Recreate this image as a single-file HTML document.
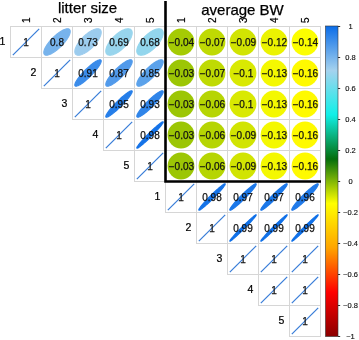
<!DOCTYPE html><html><head><meta charset="utf-8"><style>html,body{margin:0;padding:0;background:#fff;}svg{display:block;}text{font-family:"Liberation Sans",Arial,sans-serif;}</style></head><body>
<svg width="359" height="340" viewBox="0 0 359 340">
<rect width="359" height="340" fill="#fff"/>
<g fill="none" stroke="#D6D6D6" stroke-width="1"><rect x="10.5" y="26.5" width="31" height="31"/><rect x="41.5" y="26.5" width="31" height="31"/><rect x="72.5" y="26.5" width="31" height="31"/><rect x="103.5" y="26.5" width="31" height="31"/><rect x="134.5" y="26.5" width="31" height="31"/><rect x="165.5" y="26.5" width="31" height="31"/><rect x="196.5" y="26.5" width="31" height="31"/><rect x="227.5" y="26.5" width="31" height="31"/><rect x="258.5" y="26.5" width="31" height="31"/><rect x="289.5" y="26.5" width="31" height="31"/><rect x="41.5" y="57.5" width="31" height="31"/><rect x="72.5" y="57.5" width="31" height="31"/><rect x="103.5" y="57.5" width="31" height="31"/><rect x="134.5" y="57.5" width="31" height="31"/><rect x="165.5" y="57.5" width="31" height="31"/><rect x="196.5" y="57.5" width="31" height="31"/><rect x="227.5" y="57.5" width="31" height="31"/><rect x="258.5" y="57.5" width="31" height="31"/><rect x="289.5" y="57.5" width="31" height="31"/><rect x="72.5" y="88.5" width="31" height="31"/><rect x="103.5" y="88.5" width="31" height="31"/><rect x="134.5" y="88.5" width="31" height="31"/><rect x="165.5" y="88.5" width="31" height="31"/><rect x="196.5" y="88.5" width="31" height="31"/><rect x="227.5" y="88.5" width="31" height="31"/><rect x="258.5" y="88.5" width="31" height="31"/><rect x="289.5" y="88.5" width="31" height="31"/><rect x="103.5" y="119.5" width="31" height="31"/><rect x="134.5" y="119.5" width="31" height="31"/><rect x="165.5" y="119.5" width="31" height="31"/><rect x="196.5" y="119.5" width="31" height="31"/><rect x="227.5" y="119.5" width="31" height="31"/><rect x="258.5" y="119.5" width="31" height="31"/><rect x="289.5" y="119.5" width="31" height="31"/><rect x="134.5" y="150.5" width="31" height="31"/><rect x="165.5" y="150.5" width="31" height="31"/><rect x="196.5" y="150.5" width="31" height="31"/><rect x="227.5" y="150.5" width="31" height="31"/><rect x="258.5" y="150.5" width="31" height="31"/><rect x="289.5" y="150.5" width="31" height="31"/><rect x="165.5" y="181.5" width="31" height="31"/><rect x="196.5" y="181.5" width="31" height="31"/><rect x="227.5" y="181.5" width="31" height="31"/><rect x="258.5" y="181.5" width="31" height="31"/><rect x="289.5" y="181.5" width="31" height="31"/><rect x="196.5" y="212.5" width="31" height="31"/><rect x="227.5" y="212.5" width="31" height="31"/><rect x="258.5" y="212.5" width="31" height="31"/><rect x="289.5" y="212.5" width="31" height="31"/><rect x="227.5" y="243.5" width="31" height="31"/><rect x="258.5" y="243.5" width="31" height="31"/><rect x="289.5" y="243.5" width="31" height="31"/><rect x="258.5" y="274.5" width="31" height="31"/><rect x="289.5" y="274.5" width="31" height="31"/><rect x="289.5" y="305.5" width="31" height="31"/></g>
<line x1="12.83" y1="55.17" x2="39.17" y2="28.83" stroke="#3A7ED8" stroke-width="1.25"/><path d="M69.50,29.50 L69.21,29.26 L68.86,29.07 L68.47,28.94 L68.03,28.85 L67.55,28.83 L67.02,28.85 L66.45,28.93 L65.85,29.06 L65.20,29.25 L64.52,29.49 L63.82,29.78 L63.08,30.12 L62.32,30.51 L61.54,30.95 L60.73,31.43 L59.92,31.96 L59.09,32.52 L58.25,33.13 L57.41,33.77 L56.56,34.45 L55.72,35.16 L54.88,35.89 L54.05,36.65 L53.24,37.44 L52.44,38.24 L51.65,39.05 L50.89,39.88 L50.16,40.72 L49.45,41.56 L48.77,42.41 L48.13,43.25 L47.52,44.09 L46.96,44.92 L46.43,45.73 L45.95,46.54 L45.51,47.32 L45.12,48.08 L44.78,48.82 L44.49,49.52 L44.25,50.20 L44.06,50.85 L43.93,51.45 L43.85,52.02 L43.83,52.55 L43.85,53.03 L43.94,53.47 L44.07,53.86 L44.26,54.21 L44.50,54.50 L44.79,54.74 L45.14,54.93 L45.53,55.06 L45.97,55.15 L46.45,55.17 L46.98,55.15 L47.55,55.07 L48.15,54.94 L48.80,54.75 L49.48,54.51 L50.18,54.22 L50.92,53.88 L51.68,53.49 L52.46,53.05 L53.27,52.57 L54.08,52.04 L54.91,51.48 L55.75,50.87 L56.59,50.23 L57.44,49.55 L58.28,48.84 L59.12,48.11 L59.95,47.35 L60.76,46.56 L61.56,45.76 L62.35,44.95 L63.11,44.12 L63.84,43.28 L64.55,42.44 L65.23,41.59 L65.87,40.75 L66.48,39.91 L67.04,39.08 L67.57,38.27 L68.05,37.46 L68.49,36.68 L68.88,35.92 L69.22,35.18 L69.51,34.48 L69.75,33.80 L69.94,33.15 L70.07,32.55 L70.15,31.98 L70.17,31.45 L70.15,30.97 L70.06,30.53 L69.93,30.14 L69.74,29.79 L69.50,29.50Z" fill="#77B3EC" stroke="#77B3EC" stroke-width="1.2"/><path d="M100.25,29.75 L99.92,29.46 L99.53,29.23 L99.10,29.05 L98.62,28.92 L98.10,28.85 L97.54,28.83 L96.94,28.86 L96.30,28.95 L95.63,29.09 L94.92,29.28 L94.19,29.53 L93.43,29.83 L92.65,30.18 L91.86,30.58 L91.04,31.02 L90.21,31.51 L89.38,32.04 L88.53,32.61 L87.69,33.23 L86.85,33.87 L86.01,34.55 L85.18,35.27 L84.36,36.00 L83.55,36.77 L82.77,37.55 L82.00,38.36 L81.27,39.18 L80.55,40.01 L79.87,40.85 L79.23,41.69 L78.61,42.53 L78.04,43.38 L77.51,44.21 L77.02,45.04 L76.58,45.86 L76.18,46.65 L75.83,47.43 L75.53,48.19 L75.28,48.92 L75.09,49.63 L74.95,50.30 L74.86,50.94 L74.83,51.54 L74.85,52.10 L74.92,52.62 L75.05,53.10 L75.23,53.53 L75.46,53.92 L75.75,54.25 L76.08,54.54 L76.47,54.77 L76.90,54.95 L77.38,55.08 L77.90,55.15 L78.46,55.17 L79.06,55.14 L79.70,55.05 L80.37,54.91 L81.08,54.72 L81.81,54.47 L82.57,54.17 L83.35,53.82 L84.14,53.42 L84.96,52.98 L85.79,52.49 L86.62,51.96 L87.47,51.39 L88.31,50.77 L89.15,50.13 L89.99,49.45 L90.82,48.73 L91.64,48.00 L92.45,47.23 L93.23,46.45 L94.00,45.64 L94.73,44.82 L95.45,43.99 L96.13,43.15 L96.77,42.31 L97.39,41.47 L97.96,40.62 L98.49,39.79 L98.98,38.96 L99.42,38.14 L99.82,37.35 L100.17,36.57 L100.47,35.81 L100.72,35.08 L100.91,34.37 L101.05,33.70 L101.14,33.06 L101.17,32.46 L101.15,31.90 L101.08,31.38 L100.95,30.90 L100.77,30.47 L100.54,30.08 L100.25,29.75Z" fill="#9CCCEE" stroke="#9CCCEE" stroke-width="1.2"/><path d="M131.11,29.89 L130.75,29.58 L130.35,29.33 L129.90,29.12 L129.40,28.97 L128.86,28.87 L128.28,28.83 L127.66,28.84 L127.01,28.90 L126.32,29.02 L125.60,29.19 L124.86,29.42 L124.09,29.69 L123.30,30.02 L122.50,30.39 L121.67,30.82 L120.84,31.29 L120.00,31.80 L119.16,32.35 L118.31,32.95 L117.47,33.58 L116.64,34.25 L115.81,34.95 L115.00,35.67 L114.20,36.43 L113.43,37.20 L112.67,38.00 L111.95,38.81 L111.25,39.64 L110.58,40.47 L109.95,41.31 L109.35,42.16 L108.80,43.00 L108.29,43.84 L107.82,44.67 L107.39,45.50 L107.02,46.30 L106.69,47.09 L106.42,47.86 L106.19,48.60 L106.02,49.32 L105.90,50.01 L105.84,50.66 L105.83,51.28 L105.87,51.86 L105.97,52.40 L106.12,52.90 L106.33,53.35 L106.58,53.75 L106.89,54.11 L107.25,54.42 L107.65,54.67 L108.10,54.88 L108.60,55.03 L109.14,55.13 L109.72,55.17 L110.34,55.16 L110.99,55.10 L111.68,54.98 L112.40,54.81 L113.14,54.58 L113.91,54.31 L114.70,53.98 L115.50,53.61 L116.33,53.18 L117.16,52.71 L118.00,52.20 L118.84,51.65 L119.69,51.05 L120.53,50.42 L121.36,49.75 L122.19,49.05 L123.00,48.33 L123.80,47.57 L124.57,46.80 L125.33,46.00 L126.05,45.19 L126.75,44.36 L127.42,43.53 L128.05,42.69 L128.65,41.84 L129.20,41.00 L129.71,40.16 L130.18,39.33 L130.61,38.50 L130.98,37.70 L131.31,36.91 L131.58,36.14 L131.81,35.40 L131.98,34.68 L132.10,33.99 L132.16,33.34 L132.17,32.72 L132.13,32.14 L132.03,31.60 L131.88,31.10 L131.67,30.65 L131.42,30.25 L131.11,29.89Z" fill="#98D5ED" stroke="#98D5ED" stroke-width="1.2"/><path d="M162.08,29.92 L161.71,29.61 L161.30,29.35 L160.85,29.14 L160.34,28.98 L159.80,28.88 L159.21,28.83 L158.59,28.83 L157.94,28.89 L157.25,29.01 L156.53,29.17 L155.78,29.39 L155.01,29.66 L154.22,29.98 L153.41,30.35 L152.59,30.77 L151.75,31.23 L150.91,31.74 L150.07,32.29 L149.22,32.88 L148.38,33.51 L147.55,34.18 L146.72,34.87 L145.91,35.59 L145.12,36.35 L144.35,37.12 L143.59,37.91 L142.87,38.72 L142.18,39.55 L141.51,40.38 L140.88,41.22 L140.29,42.07 L139.74,42.91 L139.23,43.75 L138.77,44.59 L138.35,45.41 L137.98,46.22 L137.66,47.01 L137.39,47.78 L137.17,48.53 L137.01,49.25 L136.89,49.94 L136.83,50.59 L136.83,51.21 L136.88,51.80 L136.98,52.34 L137.14,52.85 L137.35,53.30 L137.61,53.71 L137.92,54.08 L138.29,54.39 L138.70,54.65 L139.15,54.86 L139.66,55.02 L140.20,55.12 L140.79,55.17 L141.41,55.17 L142.06,55.11 L142.75,54.99 L143.47,54.83 L144.22,54.61 L144.99,54.34 L145.78,54.02 L146.59,53.65 L147.41,53.23 L148.25,52.77 L149.09,52.26 L149.93,51.71 L150.78,51.12 L151.62,50.49 L152.45,49.82 L153.28,49.13 L154.09,48.41 L154.88,47.65 L155.65,46.88 L156.41,46.09 L157.13,45.28 L157.82,44.45 L158.49,43.62 L159.12,42.78 L159.71,41.93 L160.26,41.09 L160.77,40.25 L161.23,39.41 L161.65,38.59 L162.02,37.78 L162.34,36.99 L162.61,36.22 L162.83,35.47 L162.99,34.75 L163.11,34.06 L163.17,33.41 L163.17,32.79 L163.12,32.20 L163.02,31.66 L162.86,31.15 L162.65,30.70 L162.39,30.29 L162.08,29.92Z" fill="#93D6ED" stroke="#93D6ED" stroke-width="1.2"/><circle cx="181.0" cy="42.0" r="13.4" fill="#A5CB04"/><circle cx="212.0" cy="42.0" r="13.4" fill="#BFDA03"/><circle cx="243.0" cy="42.0" r="13.4" fill="#D1E402"/><circle cx="274.0" cy="42.0" r="13.4" fill="#EBF301"/><circle cx="305.0" cy="42.0" r="13.4" fill="#FCFE00"/><line x1="43.83" y1="86.17" x2="70.17" y2="59.83" stroke="#3A7ED8" stroke-width="1.25"/><path d="M100.88,60.12 L100.67,59.97 L100.41,59.87 L100.10,59.83 L99.75,59.84 L99.34,59.90 L98.89,60.02 L98.39,60.19 L97.85,60.41 L97.27,60.68 L96.65,61.01 L95.99,61.38 L95.30,61.81 L94.59,62.28 L93.84,62.79 L93.07,63.34 L92.28,63.94 L91.48,64.57 L90.66,65.23 L89.82,65.93 L88.98,66.66 L88.14,67.41 L87.30,68.19 L86.45,68.98 L85.62,69.79 L84.79,70.62 L83.98,71.45 L83.19,72.30 L82.41,73.14 L81.66,73.98 L80.93,74.82 L80.23,75.66 L79.57,76.48 L78.94,77.28 L78.34,78.07 L77.79,78.84 L77.28,79.59 L76.81,80.30 L76.38,80.99 L76.01,81.65 L75.68,82.27 L75.41,82.85 L75.19,83.39 L75.02,83.89 L74.90,84.34 L74.84,84.75 L74.83,85.10 L74.87,85.41 L74.97,85.67 L75.12,85.88 L75.33,86.03 L75.59,86.13 L75.90,86.17 L76.25,86.16 L76.66,86.10 L77.11,85.98 L77.61,85.81 L78.15,85.59 L78.73,85.32 L79.35,84.99 L80.01,84.62 L80.70,84.19 L81.41,83.72 L82.16,83.21 L82.93,82.66 L83.72,82.06 L84.52,81.43 L85.34,80.77 L86.18,80.07 L87.02,79.34 L87.86,78.59 L88.70,77.81 L89.55,77.02 L90.38,76.21 L91.21,75.38 L92.02,74.55 L92.81,73.70 L93.59,72.86 L94.34,72.02 L95.07,71.18 L95.77,70.34 L96.43,69.52 L97.06,68.72 L97.66,67.93 L98.21,67.16 L98.72,66.41 L99.19,65.70 L99.62,65.01 L99.99,64.35 L100.32,63.73 L100.59,63.15 L100.81,62.61 L100.98,62.11 L101.10,61.66 L101.16,61.25 L101.17,60.90 L101.13,60.59 L101.03,60.33 L100.88,60.12Z" fill="#3B8CEA" stroke="#3B8CEA" stroke-width="1.2"/><path d="M131.74,60.26 L131.50,60.07 L131.21,59.94 L130.86,59.85 L130.47,59.83 L130.03,59.85 L129.55,59.93 L129.02,60.06 L128.45,60.25 L127.84,60.49 L127.20,60.78 L126.52,61.12 L125.81,61.51 L125.08,61.95 L124.32,62.43 L123.53,62.96 L122.73,63.52 L121.91,64.13 L121.09,64.77 L120.25,65.45 L119.40,66.16 L118.56,66.89 L117.72,67.65 L116.88,68.43 L116.05,69.23 L115.23,70.05 L114.43,70.88 L113.65,71.72 L112.89,72.56 L112.16,73.40 L111.45,74.25 L110.77,75.09 L110.13,75.91 L109.52,76.73 L108.96,77.53 L108.43,78.32 L107.95,79.08 L107.51,79.81 L107.12,80.52 L106.78,81.20 L106.49,81.84 L106.25,82.45 L106.06,83.02 L105.93,83.55 L105.85,84.03 L105.83,84.47 L105.85,84.86 L105.94,85.21 L106.07,85.50 L106.26,85.74 L106.50,85.93 L106.79,86.06 L107.14,86.15 L107.53,86.17 L107.97,86.15 L108.45,86.07 L108.98,85.94 L109.55,85.75 L110.16,85.51 L110.80,85.22 L111.48,84.88 L112.19,84.49 L112.92,84.05 L113.68,83.57 L114.47,83.04 L115.27,82.48 L116.09,81.87 L116.91,81.23 L117.75,80.55 L118.60,79.84 L119.44,79.11 L120.28,78.35 L121.12,77.57 L121.95,76.77 L122.77,75.95 L123.57,75.12 L124.35,74.28 L125.11,73.44 L125.84,72.60 L126.55,71.75 L127.23,70.91 L127.87,70.09 L128.48,69.27 L129.04,68.47 L129.57,67.68 L130.05,66.92 L130.49,66.19 L130.88,65.48 L131.22,64.80 L131.51,64.16 L131.75,63.55 L131.94,62.98 L132.07,62.45 L132.15,61.97 L132.17,61.53 L132.15,61.14 L132.06,60.79 L131.93,60.50 L131.74,60.26Z" fill="#519AEB" stroke="#519AEB" stroke-width="1.2"/><path d="M162.67,60.33 L162.41,60.12 L162.11,59.97 L161.75,59.87 L161.34,59.83 L160.89,59.84 L160.39,59.90 L159.85,60.02 L159.27,60.19 L158.65,60.41 L158.00,60.69 L157.31,61.01 L156.59,61.39 L155.85,61.81 L155.08,62.28 L154.29,62.79 L153.48,63.35 L152.66,63.94 L151.83,64.57 L150.99,65.24 L150.15,65.94 L149.30,66.66 L148.46,67.42 L147.63,68.19 L146.80,68.99 L145.99,69.80 L145.19,70.63 L144.42,71.46 L143.66,72.30 L142.94,73.15 L142.24,73.99 L141.57,74.83 L140.94,75.66 L140.35,76.48 L139.79,77.29 L139.28,78.08 L138.81,78.85 L138.39,79.59 L138.01,80.31 L137.69,81.00 L137.41,81.65 L137.19,82.27 L137.02,82.85 L136.90,83.39 L136.84,83.89 L136.83,84.34 L136.87,84.75 L136.97,85.11 L137.12,85.41 L137.33,85.67 L137.59,85.88 L137.89,86.03 L138.25,86.13 L138.66,86.17 L139.11,86.16 L139.61,86.10 L140.15,85.98 L140.73,85.81 L141.35,85.59 L142.00,85.31 L142.69,84.99 L143.41,84.61 L144.15,84.19 L144.92,83.72 L145.71,83.21 L146.52,82.65 L147.34,82.06 L148.17,81.43 L149.01,80.76 L149.85,80.06 L150.70,79.34 L151.54,78.58 L152.37,77.81 L153.20,77.01 L154.01,76.20 L154.81,75.37 L155.58,74.54 L156.34,73.70 L157.06,72.85 L157.76,72.01 L158.43,71.17 L159.06,70.34 L159.65,69.52 L160.21,68.71 L160.72,67.92 L161.19,67.15 L161.61,66.41 L161.99,65.69 L162.31,65.00 L162.59,64.35 L162.81,63.73 L162.98,63.15 L163.10,62.61 L163.16,62.11 L163.17,61.66 L163.13,61.25 L163.03,60.89 L162.88,60.59 L162.67,60.33Z" fill="#5BA2EB" stroke="#5BA2EB" stroke-width="1.2"/><circle cx="181.0" cy="73.0" r="13.4" fill="#9CC605"/><circle cx="212.0" cy="73.0" r="13.4" fill="#BFDA03"/><circle cx="243.0" cy="73.0" r="13.4" fill="#D9E902"/><circle cx="274.0" cy="73.0" r="13.4" fill="#F4F801"/><circle cx="305.0" cy="73.0" r="13.4" fill="#FFFA00"/><line x1="74.83" y1="117.17" x2="101.17" y2="90.83" stroke="#3A7ED8" stroke-width="1.25"/><path d="M132.01,90.99 L131.85,90.88 L131.64,90.83 L131.37,90.83 L131.06,90.89 L130.69,91.00 L130.28,91.16 L129.82,91.38 L129.31,91.64 L128.77,91.96 L128.18,92.33 L127.56,92.74 L126.90,93.21 L126.20,93.71 L125.48,94.26 L124.73,94.85 L123.96,95.47 L123.17,96.14 L122.36,96.83 L121.54,97.55 L120.70,98.30 L119.86,99.07 L119.02,99.87 L118.18,100.68 L117.33,101.50 L116.50,102.33 L115.68,103.18 L114.87,104.02 L114.07,104.86 L113.30,105.70 L112.55,106.54 L111.83,107.36 L111.14,108.17 L110.47,108.96 L109.85,109.73 L109.26,110.48 L108.71,111.20 L108.21,111.90 L107.74,112.56 L107.33,113.18 L106.96,113.77 L106.64,114.31 L106.38,114.82 L106.16,115.28 L106.00,115.69 L105.89,116.06 L105.83,116.37 L105.83,116.64 L105.88,116.85 L105.99,117.01 L106.15,117.12 L106.36,117.17 L106.63,117.17 L106.94,117.11 L107.31,117.00 L107.72,116.84 L108.18,116.62 L108.69,116.36 L109.23,116.04 L109.82,115.67 L110.44,115.26 L111.10,114.79 L111.80,114.29 L112.52,113.74 L113.27,113.15 L114.04,112.53 L114.83,111.86 L115.64,111.17 L116.46,110.45 L117.30,109.70 L118.14,108.93 L118.98,108.13 L119.82,107.32 L120.67,106.50 L121.50,105.67 L122.32,104.82 L123.13,103.98 L123.93,103.14 L124.70,102.30 L125.45,101.46 L126.17,100.64 L126.86,99.83 L127.53,99.04 L128.15,98.27 L128.74,97.52 L129.29,96.80 L129.79,96.10 L130.26,95.44 L130.67,94.82 L131.04,94.23 L131.36,93.69 L131.62,93.18 L131.84,92.72 L132.00,92.31 L132.11,91.94 L132.17,91.63 L132.17,91.36 L132.12,91.15 L132.01,90.99Z" fill="#257EE9" stroke="#257EE9" stroke-width="1.2"/><path d="M162.94,91.06 L162.76,90.93 L162.52,90.85 L162.23,90.83 L161.89,90.86 L161.51,90.94 L161.07,91.08 L160.59,91.27 L160.07,91.51 L159.50,91.81 L158.90,92.15 L158.26,92.55 L157.58,92.99 L156.88,93.47 L156.14,94.00 L155.38,94.57 L154.60,95.18 L153.80,95.83 L152.99,96.51 L152.16,97.22 L151.32,97.95 L150.48,98.72 L149.63,99.50 L148.79,100.30 L147.95,101.12 L147.12,101.95 L146.30,102.79 L145.50,103.63 L144.72,104.48 L143.95,105.32 L143.22,106.16 L142.51,106.99 L141.83,107.80 L141.18,108.60 L140.57,109.38 L140.00,110.14 L139.47,110.88 L138.99,111.58 L138.55,112.26 L138.15,112.90 L137.81,113.50 L137.51,114.07 L137.27,114.59 L137.08,115.07 L136.94,115.51 L136.86,115.89 L136.83,116.23 L136.85,116.52 L136.93,116.76 L137.06,116.94 L137.24,117.07 L137.48,117.15 L137.77,117.17 L138.11,117.14 L138.49,117.06 L138.93,116.92 L139.41,116.73 L139.93,116.49 L140.50,116.19 L141.10,115.85 L141.74,115.45 L142.42,115.01 L143.12,114.53 L143.86,114.00 L144.62,113.43 L145.40,112.82 L146.20,112.17 L147.01,111.49 L147.84,110.78 L148.68,110.05 L149.52,109.28 L150.37,108.50 L151.21,107.70 L152.05,106.88 L152.88,106.05 L153.70,105.21 L154.50,104.37 L155.28,103.52 L156.05,102.68 L156.78,101.84 L157.49,101.01 L158.17,100.20 L158.82,99.40 L159.43,98.62 L160.00,97.86 L160.53,97.12 L161.01,96.42 L161.45,95.74 L161.85,95.10 L162.19,94.50 L162.49,93.93 L162.73,93.41 L162.92,92.93 L163.06,92.49 L163.14,92.11 L163.17,91.77 L163.15,91.48 L163.07,91.24 L162.94,91.06Z" fill="#3085E9" stroke="#3085E9" stroke-width="1.2"/><circle cx="181.0" cy="104.0" r="13.4" fill="#9CC605"/><circle cx="212.0" cy="104.0" r="13.4" fill="#B6D503"/><circle cx="243.0" cy="104.0" r="13.4" fill="#D9E902"/><circle cx="274.0" cy="104.0" r="13.4" fill="#F4F801"/><circle cx="305.0" cy="104.0" r="13.4" fill="#FFFA00"/><line x1="105.83" y1="148.18" x2="132.18" y2="121.83" stroke="#3A7ED8" stroke-width="1.25"/><path d="M163.11,121.89 L163.00,121.83 L162.83,121.83 L162.62,121.88 L162.35,121.99 L162.03,122.14 L161.66,122.35 L161.24,122.62 L160.78,122.93 L160.27,123.29 L159.72,123.71 L159.13,124.16 L158.50,124.67 L157.84,125.21 L157.14,125.80 L156.42,126.42 L155.67,127.08 L154.90,127.77 L154.10,128.49 L153.29,129.24 L152.47,130.01 L151.63,130.80 L150.79,131.61 L149.95,132.43 L149.10,133.26 L148.26,134.10 L147.43,134.95 L146.61,135.79 L145.80,136.63 L145.01,137.47 L144.24,138.29 L143.49,139.10 L142.77,139.90 L142.08,140.67 L141.42,141.42 L140.80,142.14 L140.21,142.84 L139.67,143.50 L139.16,144.13 L138.71,144.72 L138.29,145.27 L137.93,145.78 L137.62,146.24 L137.35,146.66 L137.14,147.03 L136.99,147.35 L136.88,147.62 L136.83,147.83 L136.83,148.00 L136.89,148.11 L137.00,148.17 L137.17,148.17 L137.38,148.12 L137.65,148.01 L137.97,147.86 L138.34,147.65 L138.76,147.38 L139.22,147.07 L139.73,146.71 L140.28,146.29 L140.87,145.84 L141.50,145.33 L142.16,144.79 L142.86,144.20 L143.58,143.58 L144.33,142.92 L145.10,142.23 L145.90,141.51 L146.71,140.76 L147.53,139.99 L148.37,139.20 L149.21,138.39 L150.05,137.57 L150.90,136.74 L151.74,135.90 L152.57,135.05 L153.39,134.21 L154.20,133.37 L154.99,132.53 L155.76,131.71 L156.51,130.90 L157.23,130.10 L157.92,129.33 L158.58,128.58 L159.20,127.86 L159.79,127.16 L160.33,126.50 L160.84,125.87 L161.29,125.28 L161.71,124.73 L162.07,124.22 L162.38,123.76 L162.65,123.34 L162.86,122.97 L163.01,122.65 L163.12,122.38 L163.17,122.17 L163.17,122.00 L163.11,121.89Z" fill="#1573E8" stroke="#1573E8" stroke-width="1.2"/><circle cx="181.0" cy="135.0" r="13.4" fill="#9CC605"/><circle cx="212.0" cy="135.0" r="13.4" fill="#B6D503"/><circle cx="243.0" cy="135.0" r="13.4" fill="#D1E402"/><circle cx="274.0" cy="135.0" r="13.4" fill="#F4F801"/><circle cx="305.0" cy="135.0" r="13.4" fill="#FFFA00"/><line x1="136.82" y1="179.18" x2="163.18" y2="152.82" stroke="#3A7ED8" stroke-width="1.25"/><circle cx="181.0" cy="166.0" r="13.4" fill="#9CC605"/><circle cx="212.0" cy="166.0" r="13.4" fill="#B6D503"/><circle cx="243.0" cy="166.0" r="13.4" fill="#D1E402"/><circle cx="274.0" cy="166.0" r="13.4" fill="#F4F801"/><circle cx="305.0" cy="166.0" r="13.4" fill="#FFFA00"/><line x1="167.82" y1="210.18" x2="194.18" y2="183.82" stroke="#3A7ED8" stroke-width="1.25"/><path d="M225.11,183.89 L225.00,183.83 L224.83,183.83 L224.62,183.88 L224.35,183.99 L224.03,184.14 L223.66,184.35 L223.24,184.62 L222.78,184.93 L222.27,185.29 L221.72,185.71 L221.13,186.16 L220.50,186.67 L219.84,187.21 L219.14,187.80 L218.42,188.42 L217.67,189.08 L216.90,189.77 L216.10,190.49 L215.29,191.24 L214.47,192.01 L213.63,192.80 L212.79,193.61 L211.95,194.43 L211.10,195.26 L210.26,196.10 L209.43,196.95 L208.61,197.79 L207.80,198.63 L207.01,199.47 L206.24,200.29 L205.49,201.10 L204.77,201.90 L204.08,202.67 L203.42,203.42 L202.80,204.14 L202.21,204.84 L201.67,205.50 L201.16,206.13 L200.71,206.72 L200.29,207.27 L199.93,207.78 L199.62,208.24 L199.35,208.66 L199.14,209.03 L198.99,209.35 L198.88,209.62 L198.83,209.83 L198.83,210.00 L198.89,210.11 L199.00,210.17 L199.17,210.17 L199.38,210.12 L199.65,210.01 L199.97,209.86 L200.34,209.65 L200.76,209.38 L201.22,209.07 L201.73,208.71 L202.28,208.29 L202.87,207.84 L203.50,207.33 L204.16,206.79 L204.86,206.20 L205.58,205.58 L206.33,204.92 L207.10,204.23 L207.90,203.51 L208.71,202.76 L209.53,201.99 L210.37,201.20 L211.21,200.39 L212.05,199.57 L212.90,198.74 L213.74,197.90 L214.57,197.05 L215.39,196.21 L216.20,195.37 L216.99,194.53 L217.76,193.71 L218.51,192.90 L219.23,192.10 L219.92,191.33 L220.58,190.58 L221.20,189.86 L221.79,189.16 L222.33,188.50 L222.84,187.87 L223.29,187.28 L223.71,186.73 L224.07,186.22 L224.38,185.76 L224.65,185.34 L224.86,184.97 L225.01,184.65 L225.12,184.38 L225.17,184.17 L225.17,184.00 L225.11,183.89Z" fill="#1573E8" stroke="#1573E8" stroke-width="1.2"/><path d="M256.08,183.92 L255.95,183.85 L255.76,183.83 L255.53,183.86 L255.24,183.94 L254.90,184.08 L254.51,184.27 L254.08,184.52 L253.60,184.81 L253.08,185.16 L252.51,185.56 L251.91,186.00 L251.27,186.48 L250.60,187.01 L249.89,187.59 L249.16,188.20 L248.40,188.84 L247.62,189.52 L246.82,190.23 L246.00,190.97 L245.17,191.73 L244.34,192.52 L243.49,193.32 L242.65,194.14 L241.81,194.97 L240.97,195.81 L240.14,196.65 L239.32,197.49 L238.52,198.34 L237.73,199.17 L236.97,200.00 L236.23,200.82 L235.52,201.62 L234.84,202.40 L234.20,203.16 L233.59,203.89 L233.01,204.60 L232.48,205.27 L232.00,205.91 L231.56,206.51 L231.16,207.08 L230.81,207.60 L230.52,208.08 L230.27,208.51 L230.08,208.90 L229.94,209.24 L229.86,209.53 L229.83,209.76 L229.85,209.95 L229.92,210.08 L230.05,210.15 L230.24,210.17 L230.47,210.14 L230.76,210.06 L231.10,209.92 L231.49,209.73 L231.92,209.48 L232.40,209.19 L232.92,208.84 L233.49,208.44 L234.09,208.00 L234.73,207.52 L235.40,206.99 L236.11,206.41 L236.84,205.80 L237.60,205.16 L238.38,204.48 L239.18,203.77 L240.00,203.03 L240.83,202.27 L241.66,201.48 L242.51,200.68 L243.35,199.86 L244.19,199.03 L245.03,198.19 L245.86,197.35 L246.68,196.51 L247.48,195.66 L248.27,194.83 L249.03,194.00 L249.77,193.18 L250.48,192.38 L251.16,191.60 L251.80,190.84 L252.41,190.11 L252.99,189.40 L253.52,188.73 L254.00,188.09 L254.44,187.49 L254.84,186.92 L255.19,186.40 L255.48,185.92 L255.73,185.49 L255.92,185.10 L256.06,184.76 L256.14,184.47 L256.17,184.24 L256.15,184.05 L256.08,183.92Z" fill="#1A77E9" stroke="#1A77E9" stroke-width="1.2"/><path d="M287.08,183.92 L286.95,183.85 L286.76,183.83 L286.53,183.86 L286.24,183.94 L285.90,184.08 L285.51,184.27 L285.08,184.52 L284.60,184.81 L284.08,185.16 L283.51,185.56 L282.91,186.00 L282.27,186.48 L281.60,187.01 L280.89,187.59 L280.16,188.20 L279.40,188.84 L278.62,189.52 L277.82,190.23 L277.00,190.97 L276.17,191.73 L275.34,192.52 L274.49,193.32 L273.65,194.14 L272.81,194.97 L271.97,195.81 L271.14,196.65 L270.32,197.49 L269.52,198.34 L268.73,199.17 L267.97,200.00 L267.23,200.82 L266.52,201.62 L265.84,202.40 L265.20,203.16 L264.59,203.89 L264.01,204.60 L263.48,205.27 L263.00,205.91 L262.56,206.51 L262.16,207.08 L261.81,207.60 L261.52,208.08 L261.27,208.51 L261.08,208.90 L260.94,209.24 L260.86,209.53 L260.83,209.76 L260.85,209.95 L260.92,210.08 L261.05,210.15 L261.24,210.17 L261.47,210.14 L261.76,210.06 L262.10,209.92 L262.49,209.73 L262.92,209.48 L263.40,209.19 L263.92,208.84 L264.49,208.44 L265.09,208.00 L265.73,207.52 L266.40,206.99 L267.11,206.41 L267.84,205.80 L268.60,205.16 L269.38,204.48 L270.18,203.77 L271.00,203.03 L271.83,202.27 L272.66,201.48 L273.51,200.68 L274.35,199.86 L275.19,199.03 L276.03,198.19 L276.86,197.35 L277.68,196.51 L278.48,195.66 L279.27,194.83 L280.03,194.00 L280.77,193.18 L281.48,192.38 L282.16,191.60 L282.80,190.84 L283.41,190.11 L283.99,189.40 L284.52,188.73 L285.00,188.09 L285.44,187.49 L285.84,186.92 L286.19,186.40 L286.48,185.92 L286.73,185.49 L286.92,185.10 L287.06,184.76 L287.14,184.47 L287.17,184.24 L287.15,184.05 L287.08,183.92Z" fill="#1A77E9" stroke="#1A77E9" stroke-width="1.2"/><path d="M318.04,183.96 L317.90,183.86 L317.70,183.83 L317.45,183.84 L317.14,183.91 L316.79,184.03 L316.39,184.21 L315.94,184.44 L315.45,184.72 L314.91,185.05 L314.34,185.43 L313.72,185.86 L313.07,186.33 L312.39,186.85 L311.68,187.41 L310.93,188.01 L310.17,188.65 L309.38,189.32 L308.58,190.02 L307.76,190.75 L306.92,191.50 L306.09,192.28 L305.24,193.08 L304.40,193.89 L303.56,194.72 L302.72,195.56 L301.89,196.40 L301.08,197.24 L300.28,198.09 L299.50,198.92 L298.75,199.76 L298.02,200.58 L297.32,201.38 L296.65,202.17 L296.01,202.93 L295.41,203.68 L294.85,204.39 L294.33,205.07 L293.86,205.72 L293.43,206.34 L293.05,206.91 L292.72,207.45 L292.44,207.94 L292.21,208.39 L292.03,208.79 L291.91,209.14 L291.84,209.45 L291.83,209.70 L291.86,209.90 L291.96,210.04 L292.10,210.14 L292.30,210.17 L292.55,210.16 L292.86,210.09 L293.21,209.97 L293.61,209.79 L294.06,209.56 L294.55,209.28 L295.09,208.95 L295.66,208.57 L296.28,208.14 L296.93,207.67 L297.61,207.15 L298.32,206.59 L299.07,205.99 L299.83,205.35 L300.62,204.68 L301.42,203.98 L302.24,203.25 L303.08,202.50 L303.91,201.72 L304.76,200.92 L305.60,200.11 L306.44,199.28 L307.28,198.44 L308.11,197.60 L308.92,196.76 L309.72,195.91 L310.50,195.08 L311.25,194.24 L311.98,193.42 L312.68,192.62 L313.35,191.83 L313.99,191.07 L314.59,190.32 L315.15,189.61 L315.67,188.93 L316.14,188.28 L316.57,187.66 L316.95,187.09 L317.28,186.55 L317.56,186.06 L317.79,185.61 L317.97,185.21 L318.09,184.86 L318.16,184.55 L318.17,184.30 L318.14,184.10 L318.04,183.96Z" fill="#207AE9" stroke="#207AE9" stroke-width="1.2"/><line x1="198.82" y1="241.18" x2="225.18" y2="214.82" stroke="#3A7ED8" stroke-width="1.25"/><path d="M256.14,214.86 L256.06,214.83 L255.91,214.85 L255.72,214.92 L255.48,215.05 L255.18,215.23 L254.83,215.47 L254.44,215.76 L253.99,216.09 L253.51,216.48 L252.97,216.91 L252.40,217.39 L251.79,217.91 L251.15,218.47 L250.47,219.08 L249.75,219.72 L249.02,220.39 L248.25,221.10 L247.47,221.83 L246.66,222.59 L245.85,223.37 L245.02,224.17 L244.18,224.98 L243.33,225.81 L242.49,226.65 L241.65,227.49 L240.81,228.33 L239.98,229.18 L239.17,230.02 L238.37,230.85 L237.59,231.66 L236.83,232.47 L236.10,233.25 L235.39,234.02 L234.72,234.75 L234.08,235.47 L233.47,236.15 L232.91,236.79 L232.39,237.40 L231.91,237.97 L231.48,238.51 L231.09,238.99 L230.76,239.44 L230.47,239.83 L230.23,240.18 L230.05,240.48 L229.92,240.72 L229.85,240.91 L229.83,241.06 L229.86,241.14 L229.94,241.17 L230.09,241.15 L230.28,241.08 L230.52,240.95 L230.82,240.77 L231.17,240.53 L231.56,240.24 L232.01,239.91 L232.49,239.52 L233.03,239.09 L233.60,238.61 L234.21,238.09 L234.85,237.53 L235.53,236.92 L236.25,236.28 L236.98,235.61 L237.75,234.90 L238.53,234.17 L239.34,233.41 L240.15,232.63 L240.98,231.83 L241.82,231.02 L242.67,230.19 L243.51,229.35 L244.35,228.51 L245.19,227.67 L246.02,226.82 L246.83,225.98 L247.63,225.15 L248.41,224.34 L249.17,223.53 L249.90,222.75 L250.61,221.98 L251.28,221.25 L251.92,220.53 L252.53,219.85 L253.09,219.21 L253.61,218.60 L254.09,218.03 L254.52,217.49 L254.91,217.01 L255.24,216.56 L255.53,216.17 L255.77,215.82 L255.95,215.52 L256.08,215.28 L256.15,215.09 L256.17,214.94 L256.14,214.86Z" fill="#0F70E8" stroke="#0F70E8" stroke-width="1.2"/><path d="M287.14,214.86 L287.06,214.83 L286.91,214.85 L286.72,214.92 L286.48,215.05 L286.18,215.23 L285.83,215.47 L285.44,215.76 L284.99,216.09 L284.51,216.48 L283.97,216.91 L283.40,217.39 L282.79,217.91 L282.15,218.47 L281.47,219.08 L280.75,219.72 L280.02,220.39 L279.25,221.10 L278.47,221.83 L277.66,222.59 L276.85,223.37 L276.02,224.17 L275.18,224.98 L274.33,225.81 L273.49,226.65 L272.65,227.49 L271.81,228.33 L270.98,229.18 L270.17,230.02 L269.37,230.85 L268.59,231.66 L267.83,232.47 L267.10,233.25 L266.39,234.02 L265.72,234.75 L265.08,235.47 L264.47,236.15 L263.91,236.79 L263.39,237.40 L262.91,237.97 L262.48,238.51 L262.09,238.99 L261.76,239.44 L261.47,239.83 L261.23,240.18 L261.05,240.48 L260.92,240.72 L260.85,240.91 L260.83,241.06 L260.86,241.14 L260.94,241.17 L261.09,241.15 L261.28,241.08 L261.52,240.95 L261.82,240.77 L262.17,240.53 L262.56,240.24 L263.01,239.91 L263.49,239.52 L264.03,239.09 L264.60,238.61 L265.21,238.09 L265.85,237.53 L266.53,236.92 L267.25,236.28 L267.98,235.61 L268.75,234.90 L269.53,234.17 L270.34,233.41 L271.15,232.63 L271.98,231.83 L272.82,231.02 L273.67,230.19 L274.51,229.35 L275.35,228.51 L276.19,227.67 L277.02,226.82 L277.83,225.98 L278.63,225.15 L279.41,224.34 L280.17,223.53 L280.90,222.75 L281.61,221.98 L282.28,221.25 L282.92,220.53 L283.53,219.85 L284.09,219.21 L284.61,218.60 L285.09,218.03 L285.52,217.49 L285.91,217.01 L286.24,216.56 L286.53,216.17 L286.77,215.82 L286.95,215.52 L287.08,215.28 L287.15,215.09 L287.17,214.94 L287.14,214.86Z" fill="#0F70E8" stroke="#0F70E8" stroke-width="1.2"/><path d="M318.14,214.86 L318.06,214.83 L317.91,214.85 L317.72,214.92 L317.48,215.05 L317.18,215.23 L316.83,215.47 L316.44,215.76 L315.99,216.09 L315.51,216.48 L314.97,216.91 L314.40,217.39 L313.79,217.91 L313.15,218.47 L312.47,219.08 L311.75,219.72 L311.02,220.39 L310.25,221.10 L309.47,221.83 L308.66,222.59 L307.85,223.37 L307.02,224.17 L306.18,224.98 L305.33,225.81 L304.49,226.65 L303.65,227.49 L302.81,228.33 L301.98,229.18 L301.17,230.02 L300.37,230.85 L299.59,231.66 L298.83,232.47 L298.10,233.25 L297.39,234.02 L296.72,234.75 L296.08,235.47 L295.47,236.15 L294.91,236.79 L294.39,237.40 L293.91,237.97 L293.48,238.51 L293.09,238.99 L292.76,239.44 L292.47,239.83 L292.23,240.18 L292.05,240.48 L291.92,240.72 L291.85,240.91 L291.83,241.06 L291.86,241.14 L291.94,241.17 L292.09,241.15 L292.28,241.08 L292.52,240.95 L292.82,240.77 L293.17,240.53 L293.56,240.24 L294.01,239.91 L294.49,239.52 L295.03,239.09 L295.60,238.61 L296.21,238.09 L296.85,237.53 L297.53,236.92 L298.25,236.28 L298.98,235.61 L299.75,234.90 L300.53,234.17 L301.34,233.41 L302.15,232.63 L302.98,231.83 L303.82,231.02 L304.67,230.19 L305.51,229.35 L306.35,228.51 L307.19,227.67 L308.02,226.82 L308.83,225.98 L309.63,225.15 L310.41,224.34 L311.17,223.53 L311.90,222.75 L312.61,221.98 L313.28,221.25 L313.92,220.53 L314.53,219.85 L315.09,219.21 L315.61,218.60 L316.09,218.03 L316.52,217.49 L316.91,217.01 L317.24,216.56 L317.53,216.17 L317.77,215.82 L317.95,215.52 L318.08,215.28 L318.15,215.09 L318.17,214.94 L318.14,214.86Z" fill="#0F70E8" stroke="#0F70E8" stroke-width="1.2"/><line x1="229.82" y1="272.18" x2="256.18" y2="245.82" stroke="#3A7ED8" stroke-width="1.25"/><line x1="260.82" y1="272.18" x2="287.18" y2="245.82" stroke="#3A7ED8" stroke-width="1.25"/><line x1="291.82" y1="272.18" x2="318.18" y2="245.82" stroke="#3A7ED8" stroke-width="1.25"/><line x1="260.82" y1="303.18" x2="287.18" y2="276.82" stroke="#3A7ED8" stroke-width="1.25"/><line x1="291.82" y1="303.18" x2="318.18" y2="276.82" stroke="#3A7ED8" stroke-width="1.25"/><line x1="291.82" y1="334.18" x2="318.18" y2="307.82" stroke="#3A7ED8" stroke-width="1.25"/>
<g font-size="10" text-anchor="middle" fill="#111" stroke="#111" stroke-width="0.25"><text x="26.0" y="45.6">1</text><text x="57.0" y="45.6">0.8</text><text x="88.0" y="45.6">0.73</text><text x="119.0" y="45.6">0.69</text><text x="150.0" y="45.6">0.68</text><text x="181.4" y="45.6">−0.04</text><text x="212.4" y="45.6">−0.07</text><text x="243.4" y="45.6">−0.09</text><text x="274.4" y="45.6">−0.12</text><text x="305.4" y="45.6">−0.14</text><text x="57.0" y="76.6">1</text><text x="88.0" y="76.6">0.91</text><text x="119.0" y="76.6">0.87</text><text x="150.0" y="76.6">0.85</text><text x="181.4" y="76.6">−0.03</text><text x="212.4" y="76.6">−0.07</text><text x="243.4" y="76.6">−0.1</text><text x="274.4" y="76.6">−0.13</text><text x="305.4" y="76.6">−0.16</text><text x="88.0" y="107.6">1</text><text x="119.0" y="107.6">0.95</text><text x="150.0" y="107.6">0.93</text><text x="181.4" y="107.6">−0.03</text><text x="212.4" y="107.6">−0.06</text><text x="243.4" y="107.6">−0.1</text><text x="274.4" y="107.6">−0.13</text><text x="305.4" y="107.6">−0.16</text><text x="119.0" y="138.6">1</text><text x="150.0" y="138.6">0.98</text><text x="181.4" y="138.6">−0.03</text><text x="212.4" y="138.6">−0.06</text><text x="243.4" y="138.6">−0.09</text><text x="274.4" y="138.6">−0.13</text><text x="305.4" y="138.6">−0.16</text><text x="150.0" y="169.6">1</text><text x="181.4" y="169.6">−0.03</text><text x="212.4" y="169.6">−0.06</text><text x="243.4" y="169.6">−0.09</text><text x="274.4" y="169.6">−0.13</text><text x="305.4" y="169.6">−0.16</text><text x="181.0" y="200.6">1</text><text x="212.0" y="200.6">0.98</text><text x="243.0" y="200.6">0.97</text><text x="274.0" y="200.6">0.97</text><text x="305.0" y="200.6">0.96</text><text x="212.0" y="231.6">1</text><text x="243.0" y="231.6">0.99</text><text x="274.0" y="231.6">0.99</text><text x="305.0" y="231.6">0.99</text><text x="243.0" y="262.6">1</text><text x="274.0" y="262.6">1</text><text x="305.0" y="262.6">1</text><text x="274.0" y="293.6">1</text><text x="305.0" y="293.6">1</text><text x="305.0" y="324.6">1</text></g>
<g font-size="10.5" text-anchor="end" fill="#000" stroke="#000" stroke-width="0.2"><text x="5.3" y="45.1">1</text><text x="36.3" y="76.1">2</text><text x="67.3" y="107.1">3</text><text x="98.3" y="138.1">4</text><text x="129.3" y="169.1">5</text><text x="160.3" y="200.1">1</text><text x="191.3" y="231.1">2</text><text x="222.3" y="262.1">3</text><text x="253.3" y="293.1">4</text><text x="284.3" y="324.1">5</text></g>
<g font-size="10" fill="#000" stroke="#000" stroke-width="0.2"><text transform="translate(29.8,23) rotate(-90)">1</text><text transform="translate(60.8,23) rotate(-90)">2</text><text transform="translate(91.8,23) rotate(-90)">3</text><text transform="translate(122.8,23) rotate(-90)">4</text><text transform="translate(153.8,23) rotate(-90)">5</text><text transform="translate(184.8,23) rotate(-90)">1</text><text transform="translate(215.8,23) rotate(-90)">2</text><text transform="translate(246.8,23) rotate(-90)">3</text><text transform="translate(277.8,23) rotate(-90)">4</text><text transform="translate(308.8,23) rotate(-90)">5</text></g>
<g font-size="15" text-anchor="middle" fill="#000" stroke="#000" stroke-width="0.25"><text x="87.5" y="13.0">litter size</text><text x="242.5" y="15.0">average BW</text></g>
<path d="M165.5,1 V181.5 H321" fill="none" stroke="#000" stroke-width="2.6"/>
<defs><linearGradient id="cb" x1="0" y1="0" x2="0" y2="1"><stop offset="0.0000" stop-color="#0A6CE8"/><stop offset="0.1429" stop-color="#A5D2EE"/><stop offset="0.2857" stop-color="#10F0E8"/><stop offset="0.4286" stop-color="#046E0C"/><stop offset="0.5714" stop-color="#FFFF00"/><stop offset="0.7143" stop-color="#FFA500"/><stop offset="0.8571" stop-color="#FF0000"/><stop offset="1.0000" stop-color="#8B0000"/></linearGradient></defs>
<rect x="325.5" y="26" width="12.5" height="310.5" fill="url(#cb)" stroke="#333" stroke-width="0.6"/>
<path d="M338,26.5 h2.2 M338,57.5 h2.2 M338,88.5 h2.2 M338,119.5 h2.2 M338,150.5 h2.2 M338,181.5 h2.2 M338,212.5 h2.2 M338,243.5 h2.2 M338,274.5 h2.2 M338,305.5 h2.2 M338,336.5 h2.2" stroke="#333" stroke-width="1"/>
<g font-size="7.5" text-anchor="middle" fill="#111" stroke="#111" stroke-width="0.15"><text x="350.5" y="29.1">1</text><text x="350.5" y="60.1">0.8</text><text x="350.5" y="91.1">0.6</text><text x="350.5" y="122.1">0.4</text><text x="350.5" y="153.1">0.2</text><text x="350.5" y="184.1">0</text><text x="350.5" y="215.1">−0.2</text><text x="350.5" y="246.1">−0.4</text><text x="350.5" y="277.1">−0.6</text><text x="350.5" y="308.1">−0.8</text><text x="350.5" y="339.1">−1</text></g>
</svg></body></html>
